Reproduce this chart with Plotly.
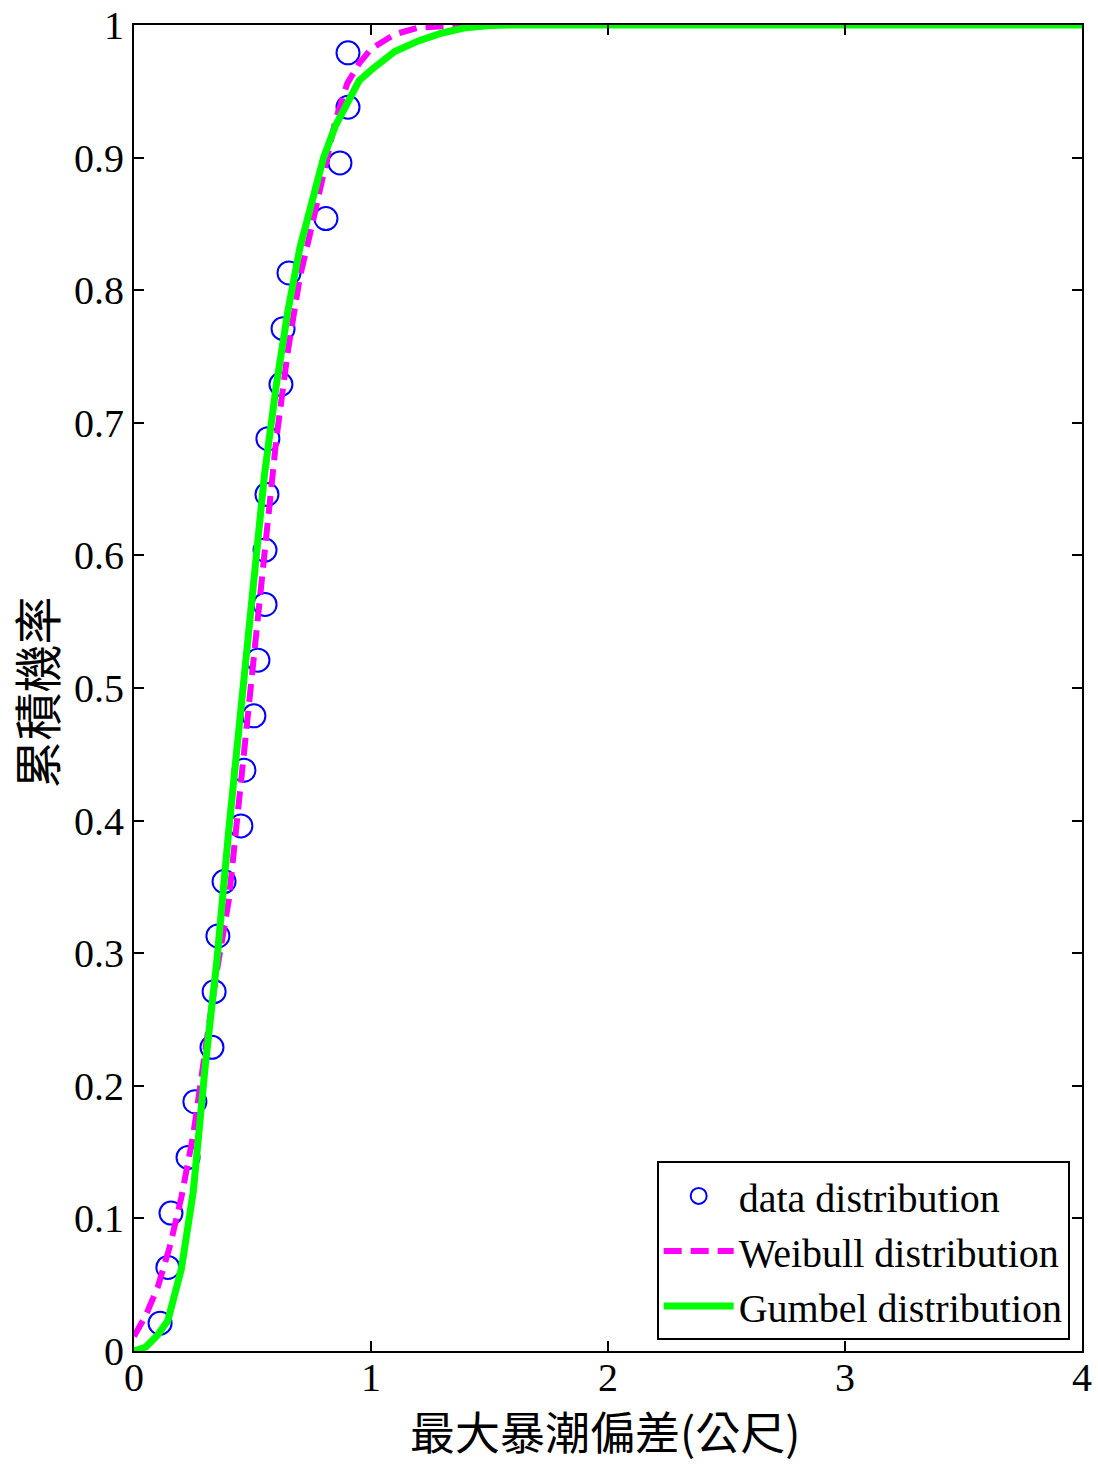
import plotly.graph_objects as go

# Empirical data points (cumulative probability)
data_x = [0.11, 0.143, 0.156, 0.228, 0.257, 0.329, 0.338, 0.354, 0.380, 0.451,
          0.464, 0.506, 0.523, 0.553, 0.553, 0.561, 0.565, 0.620, 0.629, 0.654,
          0.810, 0.869, 0.903, 0.903]
data_y = [0.021, 0.063, 0.104, 0.146, 0.188, 0.229, 0.271, 0.313, 0.354, 0.396,
          0.438, 0.479, 0.521, 0.563, 0.604, 0.646, 0.688, 0.729, 0.771, 0.813,
          0.854, 0.896, 0.938, 0.979]

# Weibull fitted curve
weib_x = [0, 0.05, 0.1, 0.15, 0.2, 0.25, 0.3, 0.35, 0.4, 0.45, 0.5, 0.55, 0.6,
          0.65, 0.7, 0.75, 0.8, 0.85, 0.9, 0.95, 1.0, 1.05, 1.1, 1.2, 1.3, 1.4,
          2.0, 3.0, 4.0]
weib_y = [0.011, 0.027, 0.048, 0.078, 0.116, 0.163, 0.226, 0.287, 0.340, 0.429,
          0.520, 0.607, 0.687, 0.755, 0.810, 0.848, 0.889, 0.928, 0.956, 0.971,
          0.982, 0.988, 0.993, 0.998, 0.9995, 1.0, 1.0, 1.0, 1.0]

# Gumbel fitted curve
gum_x = [0, 0.05, 0.1, 0.143, 0.2, 0.25, 0.3, 0.35, 0.4, 0.45, 0.5, 0.55, 0.6,
         0.65, 0.7, 0.75, 0.8, 0.85, 0.9, 0.95, 1.0, 1.1, 1.2, 1.3, 1.4, 1.5,
         1.6, 2.0, 3.0, 4.0]
gum_y = [0.0, 0.003, 0.012, 0.023, 0.062, 0.120, 0.214, 0.295, 0.393, 0.485,
         0.571, 0.660, 0.728, 0.785, 0.832, 0.868, 0.900, 0.924, 0.942, 0.958,
         0.966, 0.980, 0.988, 0.994, 0.998, 0.9997, 1.0, 1.0, 1.0, 1.0]

x_ticks = [0, 1, 2, 3, 4]
x_ticktext = ["0", "1", "2", "3", "4"]
y_ticks = [0, 0.1, 0.2, 0.3, 0.4, 0.5, 0.6, 0.7, 0.8, 0.9, 1.0]
y_ticktext = ["0", "0.1", "0.2", "0.3", "0.4", "0.5", "0.6", "0.7", "0.8", "0.9", "1"]

names = ["data distribution", "Weibull distribution", "Gumbel distribution"]
x_title = "最大暴潮偏差(公尺)"
y_title = "累積機率"

serif = "Liberation Serif, Times New Roman, serif"
cjk = "Noto Sans CJK TC, Noto Sans CJK SC, sans-serif"

fig = go.Figure()
fig.add_trace(go.Scatter(
    x=data_x, y=data_y, mode="markers", name=names[0],
    marker=dict(symbol="circle-open", size=23, color="#0000ff",
                line=dict(width=2, color="#0000ff")),
    cliponaxis=False,
))
fig.add_trace(go.Scatter(
    x=weib_x, y=weib_y, mode="lines", name=names[1],
    line=dict(color="#ff00ff", width=6, dash="18px,9px"),
    cliponaxis=False,
))
fig.add_trace(go.Scatter(
    x=gum_x, y=gum_y, mode="lines", name=names[2],
    line=dict(color="#00ff00", width=7),
    cliponaxis=False,
))

axis_common = dict(
    showline=True, linecolor="black", linewidth=2, mirror="ticks",
    ticks="inside", ticklen=10, tickwidth=1.5, tickcolor="black",
    showgrid=False, zeroline=False, automargin=False,
    tickfont=dict(family=serif, size=40, color="black"),
)

fig.update_layout(
    width=1098, height=1465,
    margin=dict(l=134, r=16, t=25, b=114),
    paper_bgcolor="white", plot_bgcolor="white",
    showlegend=True,
    legend=dict(
        x=0.987, y=0.008, xanchor="right", yanchor="bottom",
        bgcolor="white", bordercolor="black", borderwidth=2,
        font=dict(family=serif, size=40, color="black"),
        itemwidth=70, tracegroupgap=0,
    ),
    xaxis=dict(range=[0, 4], tickvals=x_ticks, ticktext=x_ticktext,
               ticklabelstandoff=-10, **axis_common),
    yaxis=dict(range=[0, 1], tickvals=y_ticks, ticktext=y_ticktext, **axis_common),
    annotations=[
        dict(text=x_title, xref="paper", yref="paper", x=0.497, y=-0.0855,
             xanchor="center", yanchor="bottom", showarrow=False, borderpad=0,
             font=dict(family=cjk, size=45, color="black")),
        dict(text=y_title, xref="paper", yref="paper", x=-0.104, y=0.497,
             xanchor="center", yanchor="middle", showarrow=False, textangle=-90,
             font=dict(family=cjk, size=48, color="black")),
    ],
)

fig.write_html("out.html")
